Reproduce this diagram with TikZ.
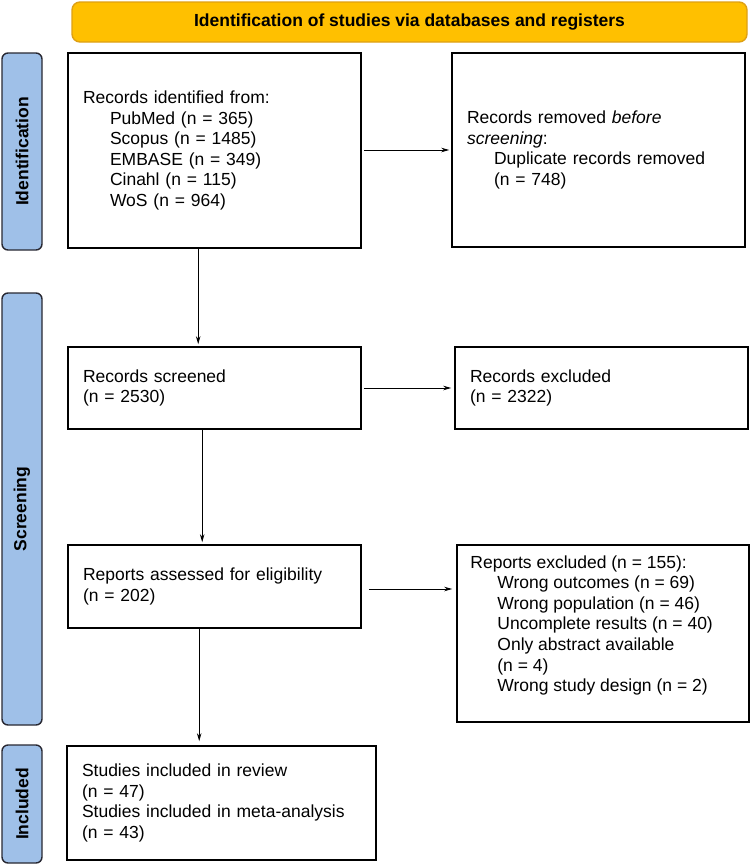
\documentclass[tikz,border=0pt]{standalone}
\usepackage{fontspec}
\setmainfont{Liberation Sans}
\usetikzlibrary{arrows.meta,calc}
\newcommand\fsz{\fontsize{17.5pt}{20.6pt}\selectfont}
\definecolor{bannerfill}{RGB}{255,192,0}
\definecolor{bannerline}{RGB}{222,160,20}
\definecolor{sidefill}{RGB}{159,192,232}
\definecolor{sideline}{RGB}{40,40,50}
\begin{document}
\begin{tikzpicture}[x=1pt,y=-1pt,
  box/.style={draw=black, line width=1.6pt, inner xsep=15pt, inner ysep=0pt, align=left, font=\fsz, anchor=center},
  side/.style={draw=sideline, fill=sidefill, line width=1.4pt, rounded corners=6pt, font=\bfseries\fsz, rotate=90, inner sep=0pt, minimum height=40pt},
  banner/.style={draw=bannerline, fill=bannerfill, line width=1.4pt, rounded corners=8pt, font=\bfseries\fsz, inner sep=0pt},
  txt/.style={align=left, font=\fsz, inner sep=0pt},
  arr/.style={draw=black, line width=0.9pt, -{Stealth[length=8pt,width=4.5pt]}}
]
\useasboundingbox (0,0) rectangle (750,865);

% banner
\node[banner, minimum width=675pt, minimum height=40pt] (ban) at (409.5,22) {Identification of studies via databases and registers};

% side labels
\node[side, minimum width=197pt] (sid) at (22,151.5) {Identification};
\node[side, minimum width=432pt] (ssc) at (22,509) {Screening};
\node[side, minimum width=118pt] (sin) at (22,804) {Included};

% boxes
\node[box, text width=263pt, minimum width=293pt, minimum height=195pt] (b1) at (214.5,150.5)
 {Records identified from:\\
  \hspace*{27pt}PubMed (n = 365)\\
  \hspace*{27pt}Scopus (n = 1485)\\
  \hspace*{27pt}EMBASE (n = 349)\\
  \hspace*{27pt}Cinahl (n = 115)\\
  \hspace*{27pt}WoS (n = 964)};

\node[box, text width=263pt, minimum width=293pt, minimum height=194pt] (b2) at (598.5,150)
 {Records removed \textit{before}\\
  \textit{screening}:\\
  \hspace*{27pt}Duplicate records removed\\
  \hspace*{27pt}(n = 748)};

\node[box, text width=263pt, minimum width=293pt, minimum height=82pt] (b3) at (214.5,388)
 {Records screened\\(n = 2530)};

\node[box, text width=263pt, minimum width=293pt, minimum height=82pt] (b4) at (601.5,388)
 {Records excluded\\(n = 2322)};

\node[box, text width=263pt, minimum width=293pt, minimum height=83pt] (b5) at (214.5,586.5)
 {Reports assessed for eligibility\\(n = 202)};

\node[box, minimum width=292pt, minimum height=177pt] (b6) at (603,633.5) {};
\node[txt, anchor=north west] (b6t) at ([xshift=14pt, yshift=-11pt]b6.north west)
 {Reports excluded (n = 155):\\
  \hspace*{27pt}Wrong outcomes (n = 69)\\
  \hspace*{27pt}Wrong population (n = 46)\\
  \hspace*{27pt}Uncomplete results (n = 40)\\
  \hspace*{27pt}Only abstract available\\
  \hspace*{27pt}(n = 4)\\
  \hspace*{27pt}Wrong study design (n = 2)};

\node[box, text width=279pt, minimum width=309pt, minimum height=114pt] (b7) at (221.5,803)
 {Studies included in review\\
  (n = 47)\\
  Studies included in meta-analysis\\
  (n = 43)};

% connectors
\draw[arr, shorten <=2pt, shorten >=2pt] (b1.east |- 0,150) -- (b2.west |- 0,150);
\draw[arr, shorten <=2pt, shorten >=3pt] (b3) -- (b4);
\coordinate (c5) at ([yshift=-2.5pt]b5.east);
\draw[arr, shorten <=7pt, shorten >=4pt] (c5) -- (c5 -| b6.west);

\coordinate (c1) at ([xshift=131pt]b1.south west);
\draw[arr, shorten >=2pt] (c1) -- (c1 |- b3.north);
\coordinate (c3) at ([xshift=135pt]b3.south west);
\draw[arr, shorten >=2pt] (c3) -- (c3 |- b5.north);
\coordinate (c5d) at ([xshift=132pt]b5.south west);
\draw[arr, shorten >=4pt] (c5d) -- (c5d |- b7.north);
\end{tikzpicture}
\end{document}
